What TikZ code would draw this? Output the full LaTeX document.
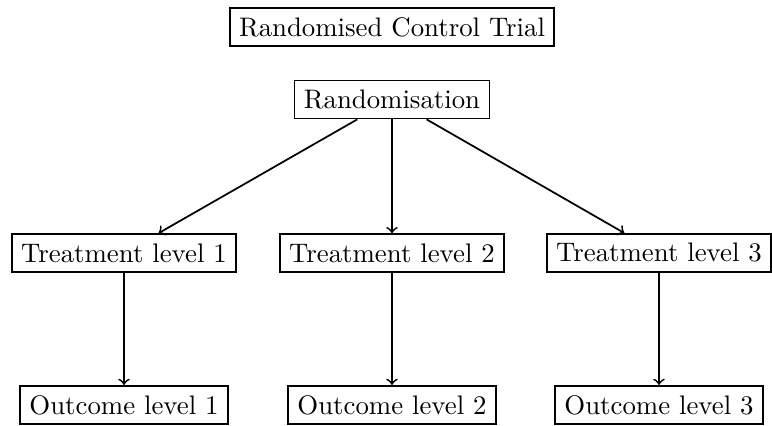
\documentclass[tikz,border=0pt]{standalone}
\begin{document}
\begin{tikzpicture}[x=0.3731pt,y=-0.3731pt,
  box/.style={draw,rectangle,inner sep=3.5pt,line width=0.7pt},
  link/.style={->,line width=0.65pt}]
\useasboundingbox (0,0) rectangle (772,426);
\node[box] (title) at (392,27) {Randomised Control Trial};
\node[box] (rand) at (392,99.5) {Randomisation};
\node[box] (t1) at (124,253) {Treatment level 1};
\node[box] (t2) at (392,253) {Treatment level 2};
\node[box] (t3) at (659,253) {Treatment level 3};
\node[box] (o1) at (124,405) {Outcome level 1};
\node[box] (o2) at (392,405) {Outcome level 2};
\node[box] (o3) at (659,405) {Outcome level 3};
\draw[link] (rand) -- (t1);
\draw[link] (rand) -- (t2);
\draw[link] (rand) -- (t3);
\draw[link] (t1) -- (o1);
\draw[link] (t2) -- (o2);
\draw[link] (t3) -- (o3);
\end{tikzpicture}
\end{document}
